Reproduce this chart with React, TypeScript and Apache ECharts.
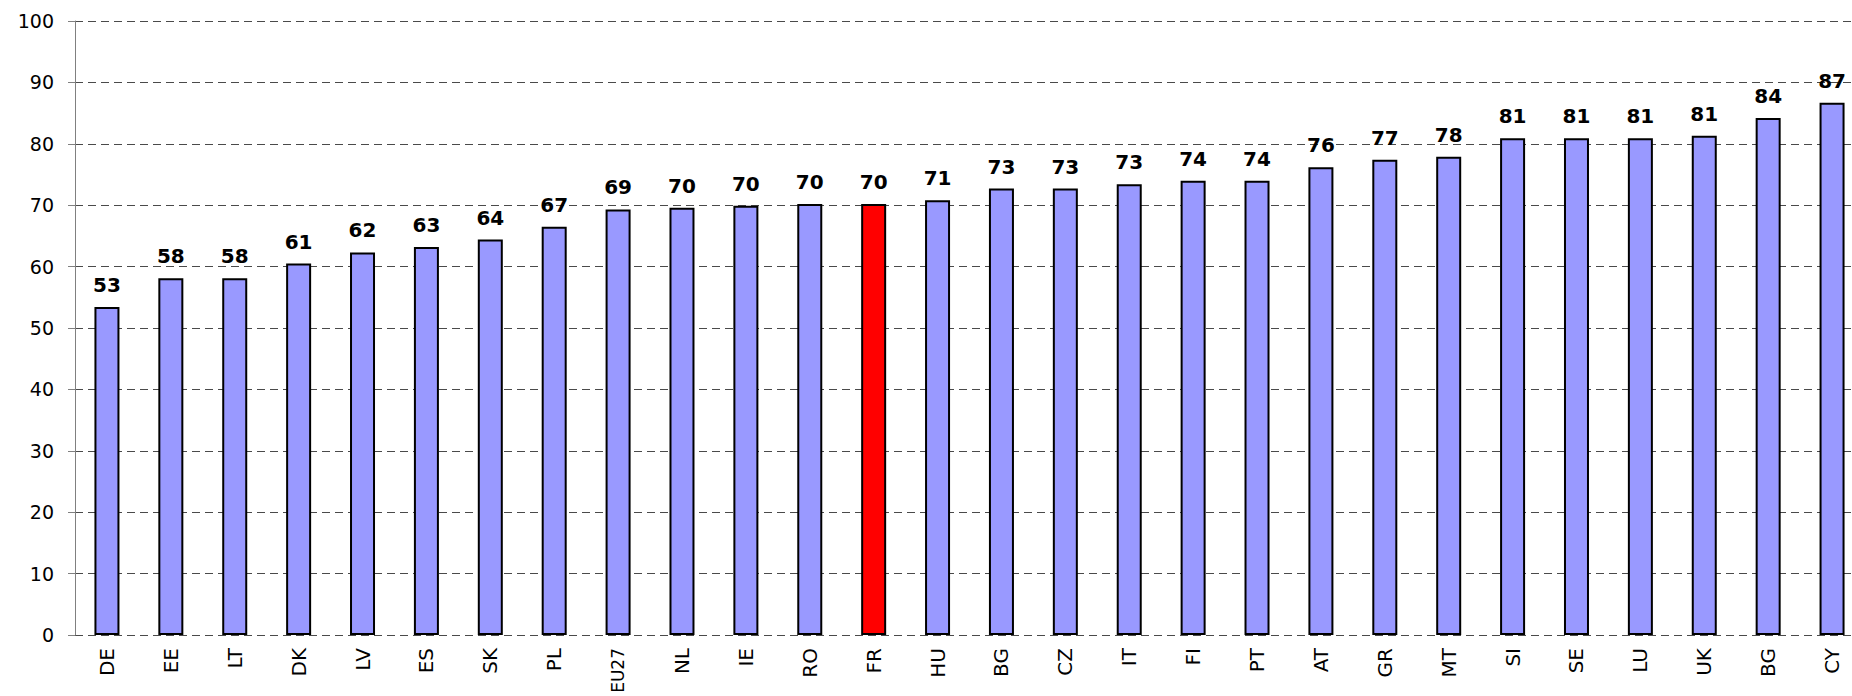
import React, { useEffect, useRef } from "react";
import * as echarts from "echarts";

const categories = ["DE", "EE", "LT", "DK", "LV", "ES", "SK", "PL", "EU27", "NL", "IE", "RO", "FR", "HU", "BG", "CZ", "IT", "FI", "PT", "AT", "GR", "MT", "SI", "SE", "LU", "UK", "BG", "CY"];
const values = [53.4, 58.1, 58.1, 60.5, 62.3, 63.2, 64.4, 66.5, 69.3, 69.6, 69.9, 70.2, 70.2, 70.8, 72.7, 72.7, 73.4, 74.0, 74.0, 76.2, 77.4, 77.9, 80.9, 80.9, 80.9, 81.3, 84.2, 86.7];
const highlight = "FR";
const yTicks = { min: 0, max: 100, interval: 10 };

const FONT = "'DejaVu Sans', 'Liberation Sans', Arial, sans-serif";

export default function App() {
  const ref = useRef<HTMLDivElement>(null);
  useEffect(() => {
    if (!ref.current) return;
    const chart = echarts.init(ref.current, null, { renderer: "svg" });
    chart.setOption({
      animation: false,
      backgroundColor: "#ffffff",
      grid: { left: 75, top: 21, width: 1789, height: 614, containLabel: false, outerBoundsMode: "none" },
      xAxis: {
        type: "category",
        data: categories,
        axisLine: { show: false },
        axisTick: { show: false },
        axisLabel: {
          rotate: 90,
          margin: 13,
          interval: 0,
          color: "#000",
          fontSize: 20,
          fontFamily: FONT,
          formatter: (v: string) => (v.length > 3 ? "{s|" + v + "}" : v),
          rich: { s: { fontSize: 17, fontFamily: FONT, color: "#000" } },
        },
      },
      yAxis: {
        type: "value",
        min: yTicks.min,
        max: yTicks.max,
        interval: yTicks.interval,
        axisLine: { show: true, lineStyle: { color: "#808080", width: 1 } },
        axisTick: { show: true, length: 7, lineStyle: { color: "#808080" } },
        axisLabel: { color: "#000", fontSize: 19, fontFamily: FONT, margin: 21 },
        splitLine: { show: true, lineStyle: { color: "#4a4a4a", type: [8, 5], width: 1 } },
      },
      series: [
        {
          type: "bar",
          barWidth: 25,
          data: values.map((v, i) => ({
            value: v,
            itemStyle: { color: categories[i] === highlight ? "#ff0000" : "#9999ff" },
          })),
          itemStyle: { borderColor: "#000", borderWidth: 2 },
          label: {
            show: true,
            position: "top",
            distance: 12,
            color: "#000",
            fontSize: 20,
            fontWeight: "bold",
            fontFamily: FONT,
            formatter: (p: any) => String(Math.round(p.value)),
          },
        },
      ],
    });
    return () => chart.dispose();
  }, []);
  return (
    <div style={{ position: "absolute", left: 0, top: 0, width: 1852, height: 696, overflow: "hidden", background: "#fff" }}>
      <div ref={ref} style={{ width: 1880, height: 696 }} />
    </div>
  );
}
